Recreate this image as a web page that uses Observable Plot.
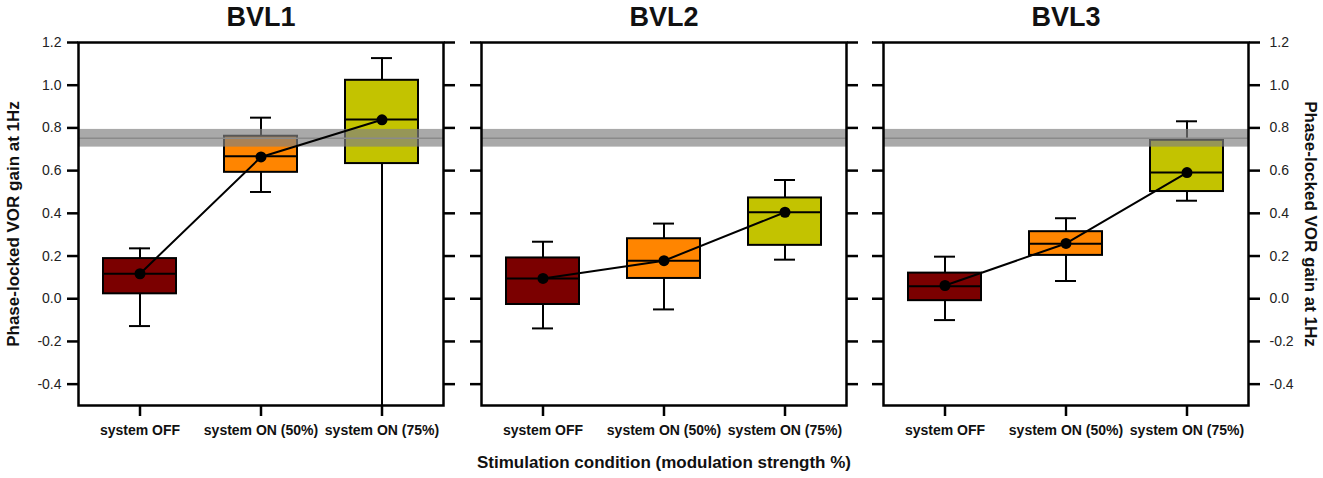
<!DOCTYPE html>
<html>
<head>
<meta charset="utf-8">
<script src="https://cdn.jsdelivr.net/npm/d3@7"></script>
<script src="https://cdn.jsdelivr.net/npm/@observablehq/plot@0.6"></script>
<style>
  html, body { margin: 0; padding: 0; background: #fff; }
  #chart { position: relative; width: 1323px; height: 478px; overflow: hidden; font-family: Arial, "Liberation Sans", sans-serif; }
  #chart svg { position: absolute; top: 0; background: transparent; }
</style>
</head>
<body>
<div id="chart"></div>
<script>
// ---- data ----
const panels = ["BVL1", "BVL2", "BVL3"];
const categories = ["system OFF", "system ON (50%)", "system ON (75%)"];
const yTicks = [-0.4, -0.2, 0.0, 0.2, 0.4, 0.6, 0.8, 1.0, 1.2];
// per panel, per category
const whiskerLow  = [[-0.128, 0.500, -0.600], [-0.139, -0.050, 0.183], [-0.100, 0.083, 0.459]];
const q1          = [[ 0.023, 0.592,  0.633], [-0.027,  0.095, 0.250], [-0.009, 0.203, 0.502]];
const median      = [[ 0.117, 0.667,  0.839], [ 0.095,  0.178, 0.405], [ 0.059, 0.258, 0.591]];
const q3          = [[ 0.188, 0.761,  1.023], [ 0.191,  0.281, 0.472], [ 0.120, 0.314, 0.742]];
const whiskerHigh = [[ 0.236, 0.848,  1.127], [ 0.267,  0.352, 0.556], [ 0.197, 0.377, 0.831]];
const mean        = [[ 0.117, 0.664,  0.838], [ 0.095,  0.178, 0.405], [ 0.062, 0.259, 0.591]];
// normal range band (healthy reference)
const normalLow = 0.71, normalMid = 0.752, normalHigh = 0.793;
const yLabel = "Phase-locked VOR gain at 1Hz";
const xLabel = "Stimulation condition (modulation strength %)";

// ---- styles ----
const boxColors = ["#7b0000", "#ff8500", "#c3c300"];
const FONT = 'Arial, "Liberation Sans", sans-serif';

const frameLeft = [77.7, 481, 883.3];
const frameW = 365, frameTop = 42, frameH = 363;
const mLeft = [78, 18, 18];
const mRight = [18, 18, 74];

const chart = document.getElementById("chart");

panels.forEach((p, pi) => {
  const rows = categories.map((c, i) => ({
    panel: p, cat: c,
    low: whiskerLow[pi][i], q1: q1[pi][i], med: median[pi][i],
    q3: q3[pi][i], high: whiskerHigh[pi][i], mean: mean[pi][i]
  }));
  const ml = mLeft[pi], mr = mRight[pi];
  const first = pi === 0, last = pi === panels.length - 1;
  const fmt = d => d.toFixed(1);
  const marks = [
    // whiskers
    Plot.ruleX(rows, {x: "cat", y1: "low", y2: "high", stroke: "black", strokeWidth: 2, clip: true}),
    Plot.tickY(rows, {x: "cat", y: "low", stroke: "black", strokeWidth: 2, insetLeft: 26, insetRight: 26, clip: true}),
    Plot.tickY(rows, {x: "cat", y: "high", stroke: "black", strokeWidth: 2, insetLeft: 26, insetRight: 26}),
    // boxes
    Plot.barY(rows, {x: "cat", y1: "q1", y2: "q3", fill: "cat", stroke: "black", strokeWidth: 2}),
    Plot.tickY(rows, {x: "cat", y: "med", stroke: "black", strokeWidth: 2}),
    // normal band
    Plot.rectY([0], {y1: () => normalLow, y2: () => normalHigh, fill: "#808080", fillOpacity: 0.68}),
    Plot.ruleY([normalMid], {stroke: "#8a8a8a", strokeWidth: 1.5}),
    // mean line + dots
    Plot.line(rows, {x: "cat", y: "mean", stroke: "black", strokeWidth: 2}),
    Plot.dot(rows, {x: "cat", y: "mean", fill: "black", r: 5.5}),
    // frame
    Plot.frame({stroke: "black", strokeWidth: 2.5}),
    // axes
    Plot.axisY({anchor: "left", ticks: yTicks, tickSize: 11, tickPadding: 6, strokeWidth: 2.5,
      tickFormat: first ? fmt : () => "", fontSize: 14, fill: "#222", label: null}),
    Plot.axisY({anchor: "right", ticks: yTicks, tickSize: 11, tickPadding: 10, strokeWidth: 2.5,
      tickFormat: last ? fmt : () => "", fontSize: 14, fill: "#222", label: null}),
    Plot.axisX({anchor: "bottom", tickSize: 11, tickPadding: 9, strokeWidth: 2.5,
      fontSize: 14, fontWeight: "bold", fill: "#111", label: null}),
    // title
    Plot.text([p], {frameAnchor: "top", dy: -25, lineAnchor: "middle", text: d => d,
      fontSize: 27, fontWeight: "bold", fill: "#111"})
  ];
  if (first) {
    marks.push(Plot.text([yLabel], {frameAnchor: "left", dx: -64.5, rotate: -90, text: d => d,
      textAnchor: "middle", lineAnchor: "middle", fontSize: 17, fontWeight: "bold", fill: "#111"}));
  }
  if (last) {
    marks.push(Plot.text([yLabel], {frameAnchor: "right", dx: 62, rotate: 90, text: d => d,
      textAnchor: "middle", lineAnchor: "middle", fontSize: 17, fontWeight: "bold", fill: "#111"}));
  }
  if (pi === 1) {
    marks.push(Plot.text([xLabel], {frameAnchor: "bottom", dy: 57, lineAnchor: "middle", text: d => d,
      fontSize: 17, fontWeight: "bold", fill: "#111"}));
  }
  const svg = Plot.plot({
    width: ml + frameW + mr,
    height: 478,
    marginLeft: ml, marginRight: mr,
    marginTop: frameTop, marginBottom: 478 - frameTop - frameH,
    style: {fontFamily: FONT, background: "transparent", overflow: "visible"},
    x: {type: "band", domain: categories, paddingInner: 0.4, paddingOuter: 0.2, axis: null},
    y: {domain: [-0.5, 1.2], axis: null},
    color: {domain: categories, range: boxColors},
    marks
  });
  svg.style.left = (frameLeft[pi] - ml) + "px";
  chart.appendChild(svg);
});
</script>
</body>
</html>
